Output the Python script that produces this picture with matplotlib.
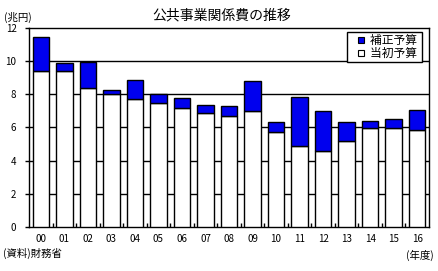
import matplotlib
matplotlib.use("Agg")
import matplotlib.pyplot as plt
import numpy as np
from matplotlib.lines import Line2D

plt.rcParams['font.family'] = ['Noto Sans CJK JP', 'DejaVu Sans']

years = ['00', '01', '02', '03', '04', '05', '06', '07', '08', '09',
         '10', '11', '12', '13', '14', '15', '16']
initial_budget = [9.39, 9.40, 8.40, 8.04, 7.74, 7.50, 7.16, 6.89, 6.71, 7.01,
                  5.75, 4.90, 4.56, 5.20, 5.98, 5.96, 5.87]
supplementary_budget = [2.05, 0.49, 1.55, 0.22, 1.11, 0.50, 0.60, 0.45, 0.59, 1.79,
                        0.58, 2.92, 2.42, 1.11, 0.39, 0.53, 1.17]
yticks = [0, 2, 4, 6, 8, 10, 12]

fig = plt.figure(figsize=(4.39, 2.71), dpi=100)
ax = fig.add_axes([29/439, 1-227/271, 400/439, 199/271])

x = np.arange(len(years))
blue = '#0000EE'
ax.bar(x, initial_budget, width=0.7, color='white', edgecolor='black', linewidth=1.0, zorder=3)
ax.bar(x, supplementary_budget, bottom=initial_budget, width=0.7, color=blue,
       edgecolor='black', linewidth=1.0, zorder=3)

for yv in yticks[1:-1]:
    ax.axhline(yv, color='black', linewidth=1.0, zorder=1)

ax.set_xlim(-0.5, len(years) - 0.5)
ax.set_ylim(0, 12)
ax.set_yticks(yticks)
ax.set_yticklabels([str(v) for v in yticks], fontsize=7)
ax.set_xticks(x)
ax.set_xticklabels(years, fontsize=7)
ax.set_xticks(np.arange(len(years) - 1) + 0.5, minor=True)
ax.tick_params(axis='x', which='major', length=0, pad=5)
ax.tick_params(axis='x', which='minor', direction='in', length=3, width=1)
ax.tick_params(axis='y', which='major', direction='out', length=3, width=1, pad=6)
for s in ax.spines.values():
    s.set_linewidth(1.0)
    s.set_color('black')

handles = [Line2D([], [], marker='s', linestyle='none', markersize=5,
                  markerfacecolor=blue, markeredgecolor='black', markeredgewidth=0.8),
           Line2D([], [], marker='s', linestyle='none', markersize=5,
                  markerfacecolor='white', markeredgecolor='black', markeredgewidth=0.8)]
leg = ax.legend(handles, ['補正予算 ', '当初予算 '], loc='upper right', fontsize=8.5,
                frameon=True, fancybox=False, edgecolor='black', framealpha=1,
                handlelength=2.0, handletextpad=-0.2,
                labelspacing=-0.05, borderpad=0.2, borderaxespad=0.3,
                bbox_to_anchor=(1 - 3/400, 1 - 0.5/199))
leg.get_frame().set_linewidth(1.0)
leg.set_zorder(5)

fig.text(222/439, 1-15/271, '公共事業関係費の推移', fontsize=10, ha='center', va='center')
fig.text(4/439, 1-17/271, '(兆円)', fontsize=7.5, ha='left', va='center')
fig.text(3/439, 1-253/271, '(資料)財務省', fontsize=7.5, ha='left', va='center')
fig.text(434/439, 1-255/271, '(年度)', fontsize=7.5, ha='right', va='center')

fig.savefig('out.png', dpi=100)
